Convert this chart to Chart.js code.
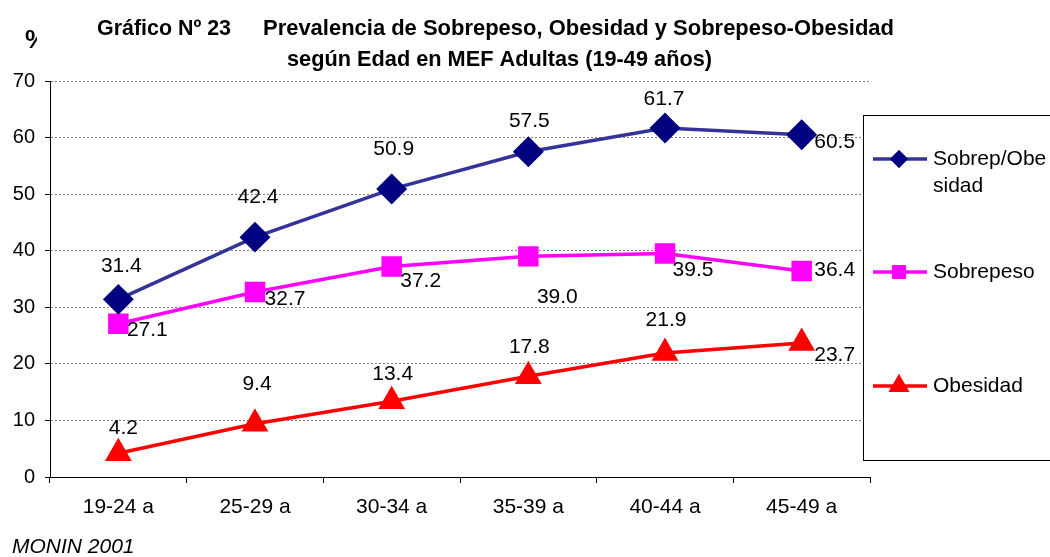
<!DOCTYPE html>
<html>
<head>
<meta charset="utf-8">
<script src="https://cdn.jsdelivr.net/npm/chart.js@4/dist/chart.umd.min.js"></script>
<style>
  body { margin: 0; background: #fff; }
  canvas { display: block; }
</style>
</head>
<body>
<canvas id="prevChart" width="1050" height="557"></canvas>
<script>
const categories = ['19-24 a', '25-29 a', '30-34 a', '35-39 a', '40-44 a', '45-49 a'];
const seriesNames = ['Sobrep/Obesidad', 'Sobrepeso', 'Obesidad'];
const sobrepObesidad = [31.4, 42.4, 50.9, 57.5, 61.7, 60.5];
const sobrepeso = [27.1, 32.7, 37.2, 39.0, 39.5, 36.4];
const obesidad = [4.2, 9.4, 13.4, 17.8, 21.9, 23.7];
const yMin = 0, yMax = 70, yStep = 10;

// where each value label sits, relative to its point (dx, dy)
const labelOffsets = [
  [[3, -33], [3, -40], [2, -40], [1, -31], [-1, -29], [33, 7]],
  [[29, 7], [30, 7], [29, 15], [29, 41], [28, 17], [33, -1]],
  [[5, -25], [2, -40], [1, -27], [1, -29], [1, -33], [33, 12]]
];

const FONT = "'Liberation Sans', Arial, sans-serif";
const NARROW = "'Liberation Sans Narrow', 'Arial Narrow', 'Liberation Sans', Arial, sans-serif";
Chart.defaults.font.family = FONT;
Chart.defaults.color = '#000';

// draw text squeezed/stretched to an exact width
function fitText(ctx, text, x, y, width) {
  const w = ctx.measureText(text).width;
  ctx.save();
  ctx.translate(x, y);
  ctx.scale(width / w, 1);
  ctx.textAlign = 'left';
  ctx.fillText(text, 0, 0);
  ctx.restore();
}

const extras = {
  id: 'extras',
  afterDraw(chart) {
    const ctx = chart.ctx;
    ctx.save();

    // value labels
    ctx.font = '21px ' + FONT;
    ctx.fillStyle = '#000';
    ctx.textAlign = 'center';
    ctx.textBaseline = 'middle';
    chart.data.datasets.forEach((ds, i) => {
      chart.getDatasetMeta(i).data.forEach((pt, j) => {
        const off = labelOffsets[i][j];
        ctx.fillText(ds.data[j].toFixed(1), pt.x + off[0], pt.y + off[1]);
      });
    });

    // title
    ctx.font = 'bold 22px ' + NARROW;
    ctx.textBaseline = 'alphabetic';
    fitText(ctx, 'Gráfico Nº 23', 97, 35, 134);
    fitText(ctx, 'Prevalencia de Sobrepeso, Obesidad y Sobrepeso-Obesidad', 263, 35, 631);
    fitText(ctx, 'según Edad en MEF Adultas (19-49 años)', 287, 66, 425);

    // % unit, clipped like the original
    ctx.save();
    ctx.beginPath();
    ctx.rect(0, 0, 37, 80);
    ctx.clip();
    ctx.font = 'bold 26px ' + FONT;
    ctx.textAlign = 'left';
    ctx.fillText('%', 25, 48);
    ctx.restore();

    // source
    ctx.font = 'italic 21px ' + FONT;
    ctx.textAlign = 'left';
    ctx.fillText('MONIN 2001', 12, 553);

    // legend box
    ctx.fillStyle = '#fff';
    ctx.fillRect(863, 115, 200, 345);
    ctx.strokeStyle = '#000';
    ctx.lineWidth = 1;
    ctx.strokeRect(863.5, 115.5, 200, 345);

    const rows = [
      { y: 159, text: ['Sobrep/Obe', 'sidad'] },
      { y: 272, text: ['Sobrepeso'] },
      { y: 386, text: ['Obesidad'] }
    ];
    const legendSize = [6.5, 7.5, 8.5];
    rows.forEach((row, i) => {
      const ds = chart.data.datasets[i];
      ctx.strokeStyle = ds.borderColor;
      ctx.lineWidth = 3.5;
      ctx.beginPath();
      ctx.moveTo(873, row.y);
      ctx.lineTo(927, row.y);
      ctx.stroke();
      Chart.helpers.drawPoint(ctx, {
        pointStyle: ds.pointStyle, radius: legendSize[i], rotation: 0, borderWidth: 1
      }, 899, row.y);
      ctx.fillStyle = ds.pointBackgroundColor;
      ctx.strokeStyle = ds.pointBorderColor;
      ctx.fill();
      ctx.stroke();
      ctx.fillStyle = '#000';
      ctx.font = '21px ' + FONT;
      ctx.textAlign = 'left';
      ctx.textBaseline = 'middle';
      row.text.forEach((t, k) => ctx.fillText(t, 933, row.y + k * 27));
    });

    ctx.restore();
  }
};

new Chart(document.getElementById('prevChart'), {
  type: 'line',
  data: {
    labels: categories,
    datasets: [
      {
        label: seriesNames[0], data: sobrepObesidad,
        borderColor: '#333399', borderWidth: 3.5,
        pointStyle: 'rectRot', pointRadius: 13,
        pointBackgroundColor: '#000080', pointBorderColor: '#000080'
      },
      {
        label: seriesNames[1], data: sobrepeso,
        borderColor: '#ff00ff', borderWidth: 3.5,
        pointStyle: 'rect', pointRadius: 12,
        pointBackgroundColor: '#ff00ff', pointBorderColor: '#ff00ff'
      },
      {
        label: seriesNames[2], data: obesidad,
        borderColor: '#ff0000', borderWidth: 3.5,
        pointStyle: 'triangle', pointRadius: 12,
        pointBackgroundColor: '#ff0000', pointBorderColor: '#ff0000'
      }
    ]
  },
  options: {
    responsive: false,
    animation: false,
    devicePixelRatio: 1,
    layout: { padding: { top: 81, right: 180, left: 0, bottom: 0 } },
    plugins: { legend: { display: false }, title: { display: false }, tooltip: { enabled: false } },
    scales: {
      x: {
        offset: true,
        grid: { offset: true, drawOnChartArea: false, tickLength: 6, color: '#000', tickColor: '#000' },
        border: { color: '#000', width: 1 },
        ticks: { font: { size: 21 }, padding: 12, maxRotation: 0 },
        afterFit: s => { s.height = 80; }
      },
      y: {
        min: yMin, max: yMax,
        ticks: { stepSize: yStep, font: { size: 20 }, padding: 10 },
        grid: {
          color: c => c.tick.value === 0 ? 'rgba(0,0,0,0)' : '#808080',
          tickColor: '#000', tickLength: 5, tickBorderDash: [], lineWidth: 1
        },
        border: { color: '#000', width: 1, dash: [2, 2] },
        afterFit: s => { s.width = 50; }
      }
    }
  },
  plugins: [extras]
});
</script>
</body>
</html>
